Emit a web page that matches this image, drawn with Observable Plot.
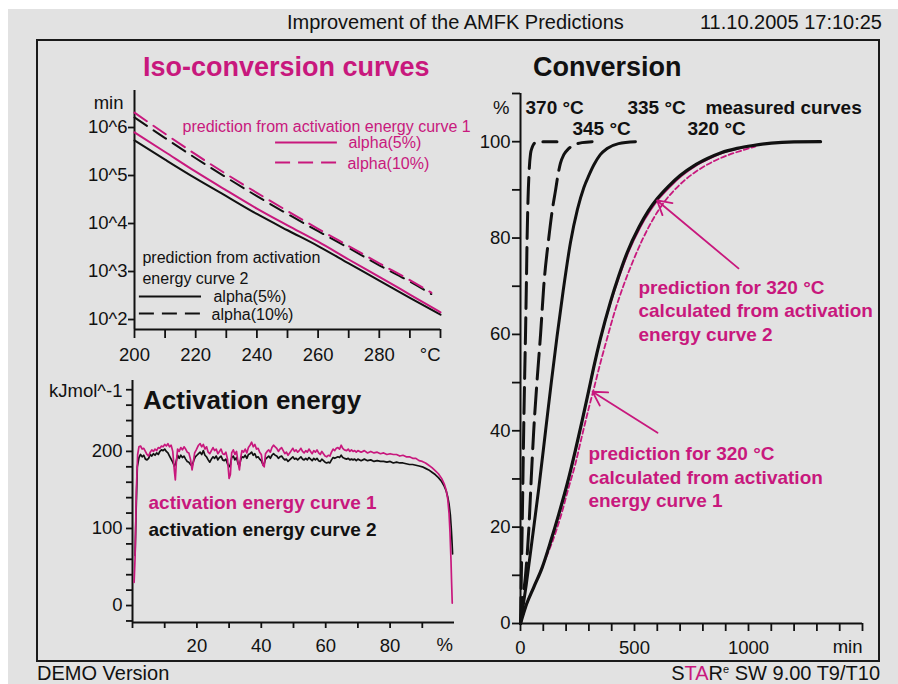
<!DOCTYPE html>
<html><head><meta charset="utf-8">
<script src="https://cdn.jsdelivr.net/npm/d3@7"></script>
<script src="https://cdn.jsdelivr.net/npm/@observablehq/plot@0.6"></script>
<style>
body{margin:0;background:#fff;}
#page{position:relative;width:898px;height:684px;overflow:hidden;background:#fff;font-family:"Liberation Sans",Arial,sans-serif;color:#111;}
#bg{position:absolute;left:8px;top:9px;right:0;bottom:0;background:#e2e2e2;}
#frame{position:absolute;left:36px;top:39px;width:840px;height:619px;border:2px solid #1a1a1a;}
.t{position:absolute;white-space:nowrap;line-height:1;transform:translateY(-50%);}
.b{font-weight:bold;}
</style></head>
<body>
<div id="page">
  <div id="bg"></div>
  <div id="frame"></div>
  <div class="t" style="left:287px;top:22px;font-size:20px;">Improvement of the AMFK Predictions</div>
  <div class="t" style="right:16px;top:22px;font-size:20px;">11.10.2005 17:10:25</div>
  <div class="t b" style="left:143px;top:67px;font-size:27px;color:#c8187d;">Iso-conversion curves</div>
  <div class="t b" style="left:533px;top:67px;font-size:27px;">Conversion</div>
  <div class="t b" style="left:143px;top:400px;font-size:26px;">Activation energy</div>
  <div class="t" style="left:37px;top:673px;font-size:20px;">DEMO Version</div>
  <div class="t" style="right:18px;top:673px;font-size:20px;">S<span style="color:#c8187d">TA</span>R<sup style="font-size:11px;vertical-align:7px;line-height:0">e</sup> SW 9.00 T9/T10</div>
  <div id="charts"></div>
</div>
<script>
const MAG = "#c8187d";
const INK = "#111";
const FONT = '"Liberation Sans", Arial, sans-serif';

// ---------- Iso-conversion curves (time in min vs temperature in °C) ----------
const isoTemp = [200, 210, 220, 230, 240, 250, 260, 270, 280, 290, 300];
const isoTempDashed = [200, 210, 220, 230, 240, 250, 260, 270, 280, 290, 297];
const iso5Curve1 = [794000, 309000, 120000, 49000, 20400, 9120, 4170, 1780, 776, 331, 141];
const iso5Curve2 = [537000, 214000, 87100, 37200, 15800, 7240, 3390, 1480, 646, 282, 126];
const iso10Curve1 = [2040000, 741000, 275000, 107000, 43600, 18200, 7760, 3390, 1480, 661, 363];
const iso10Curve2 = [1620000, 603000, 229000, 91200, 37200, 15800, 6920, 3090, 1350, 617, 339];
const isoXTicks = [200, 210, 220, 230, 240, 250, 260, 270, 280, 290, 300];
const isoXLabels = [200, 220, 240, 260, 280];
const isoYTicks = [1e2, 1e3, 1e4, 1e5, 1e6];

// ---------- Activation energy (kJ/mol vs conversion %) ----------
const actCurve1 = [[0.5,30],[0.8,62],[1.2,150],[1.6,196],[2.0,206],[2.5,207],[3.0,203],[3.5,204],[4.0,200],[4.5,196],[5.0,194],[5.5,199],[6.0,202],[6.5,200],[7.0,203],[7.5,201],[8.0,205],[8.5,204],[9.0,207],[9.5,206],[10.0,209],[10.5,207],[11.0,210],[11.5,206],[12.0,208],[12.5,200],[13.0,175],[13.3,163],[13.6,185],[14.0,203],[14.5,200],[15.0,205],[15.5,202],[16.0,206],[16.5,203],[17.0,199],[17.5,198],[18.0,190],[18.5,176],[18.9,186],[19.3,198],[19.8,202],[20.5,208],[21.0,210],[21.5,206],[22.0,209],[22.5,203],[23.0,206],[23.5,199],[24.0,197],[24.5,201],[25.0,205],[25.5,201],[26.0,203],[26.5,197],[27.0,200],[27.5,203],[28.0,197],[28.5,196],[29.0,199],[29.5,190],[30.0,165],[30.4,170],[30.8,198],[31.3,202],[31.8,196],[32.3,200],[32.8,185],[33.2,176],[33.6,192],[34.0,201],[34.5,199],[35.0,203],[35.5,198],[36.0,205],[36.5,208],[37.0,212],[37.5,206],[38.0,209],[38.5,203],[39.0,204],[39.5,199],[40.0,196],[40.5,182],[40.9,180],[41.3,197],[41.8,200],[42.3,202],[42.8,199],[43.3,205],[43.8,208],[44.3,206],[44.8,204],[45.3,200],[45.8,203],[46.3,205],[46.8,201],[47.3,197],[47.8,199],[48.3,195],[48.8,198],[49.3,201],[49.8,204],[50.3,200],[50.8,202],[51.3,199],[51.8,201],[52.3,204],[52.8,200],[53.3,198],[53.8,201],[54.3,199],[54.8,203],[55.3,200],[55.8,197],[56.3,201],[56.8,199],[57.3,202],[57.8,198],[58.3,196],[58.8,200],[59.3,197],[59.8,194],[60.3,193],[60.8,195],[61.3,194],[61.8,199],[62.3,203],[62.8,201],[63.3,204],[63.8,205],[64.3,203],[64.8,208],[65.3,204],[65.8,202],[66.5,201],[67.0,203],[67.5,200],[68.0,202],[68.5,200],[69.0,201],[69.5,199],[70,201],[71,199],[72,201],[73,198],[74,200],[75,198],[76,199],[77,197],[78,198],[79,196],[80,197],[81,196],[82,196],[83,194],[84,195],[85,193],[86,193],[87,191],[88,191],[89,188],[90,187],[91,185],[92,182],[93,179],[94,175],[95,171],[96,165],[96.8,158],[97.4,150],[97.9,138],[98.3,120],[98.6,95],[98.9,60],[99.1,30],[99.3,3]];
const actCurve2 = [[0.8,65],[1.1,120],[1.5,180],[2.0,192],[2.5,196],[3.0,193],[3.5,195],[4.0,190],[4.5,189],[5.0,191],[5.5,196],[6.0,194],[6.5,197],[7.0,195],[7.5,198],[8.0,196],[8.5,200],[9.0,202],[9.5,201],[10.0,203],[10.5,200],[11.0,198],[11.5,194],[12.0,190],[12.5,186],[13.0,181],[13.4,184],[14.0,195],[14.5,191],[15.0,195],[15.5,192],[16.0,194],[16.5,190],[17.0,187],[17.5,186],[18.0,183],[18.5,181],[19.0,188],[19.5,193],[20.0,195],[20.5,197],[21.0,199],[21.5,196],[22.0,201],[22.5,195],[23.0,193],[23.5,189],[24.0,186],[24.5,190],[25.0,193],[25.5,191],[26.0,194],[26.5,189],[27.0,192],[27.5,194],[28.0,189],[28.5,188],[29.0,190],[29.5,184],[30.0,180],[30.4,183],[30.8,192],[31.3,194],[31.8,189],[32.3,192],[32.8,184],[33.2,181],[33.6,189],[34.0,193],[34.5,192],[35.0,195],[35.5,191],[36.0,196],[36.5,197],[37.0,199],[37.5,195],[38.0,197],[38.5,192],[39.0,193],[39.5,190],[40.0,188],[40.5,183],[40.9,184],[41.3,190],[41.8,192],[42.3,194],[42.8,191],[43.3,195],[43.8,197],[44.3,195],[44.8,194],[45.3,191],[45.8,193],[46.3,194],[46.8,191],[47.3,189],[47.8,190],[48.3,187],[48.8,189],[49.3,191],[49.8,193],[50.3,190],[50.8,191],[51.3,189],[51.8,191],[52.3,193],[52.8,190],[53.3,189],[53.8,191],[54.3,189],[54.8,192],[55.3,190],[55.8,188],[56.3,191],[56.8,189],[57.3,191],[57.8,188],[58.3,187],[58.8,190],[59.3,188],[59.8,186],[60.3,185],[60.8,186],[61.3,185],[61.8,189],[62.3,192],[62.8,191],[63.3,192],[63.8,193],[64.3,192],[64.8,195],[65.3,192],[65.8,191],[66.5,190],[67,191],[67.5,189],[68,190],[68.5,189],[69,190],[69.5,188],[70,190],[71,188],[72,190],[73,188],[74,189],[75,187],[76,188],[77,187],[78,187],[79,186],[80,187],[81,185],[82,186],[83,185],[84,185],[85,184],[86,183],[87,183],[88,182],[89,181],[90,180],[91,178],[92,176],[93,173],[94,170],[95,166],[96,161],[96.8,155],[97.4,149],[97.9,141],[98.3,132],[98.7,118],[99.0,100],[99.2,85],[99.4,67]];
const actXTicks = [0, 10, 20, 30, 40, 50, 60, 70, 80, 90];
const actXLabels = [20, 40, 60, 80];
const actYTicks = [-20, 0, 20, 40, 60, 80, 100, 120, 140, 160, 180, 200, 220, 240, 260, 280];
const actYLabels = [0, 100, 200];

// ---------- Conversion (% vs time in min) ----------
const t370 = [0, 3, 7, 11, 15, 19, 22, 26, 29, 33, 38, 44, 51, 58, 70, 85, 160];
const c370 = [0, 8, 19, 31, 43, 53, 60, 71, 80, 88, 94, 97.5, 98.8, 99.5, 99.9, 100, 100];
const t345 = [0, 10, 22, 37, 47, 58, 72, 88, 102, 124, 140, 154, 164, 175, 190, 210, 235, 270, 314];
const c345 = [0, 5, 10, 20, 30, 40, 50, 60, 70, 80, 86, 90, 93, 95.5, 97.3, 98.5, 99.3, 99.8, 100];
const t335 = [0, 25, 50, 80, 110, 135, 160, 187, 219, 250, 278, 300, 322, 350, 380, 430, 504];
const c335 = [0, 8, 17, 28, 40, 50, 59.5, 69, 79, 86, 90.5, 93, 95.2, 97.3, 98.6, 99.6, 100];
const t320 = [0, 22, 58, 95, 132, 168, 205, 241, 270, 300, 325, 350, 395, 430, 468, 520, 560, 600, 650, 700, 760, 820, 880, 950, 1020, 1100, 1200, 1316];
const c320 = [0, 3.4, 7.5, 11.6, 17, 22.7, 29, 36, 42, 48.5, 54, 59, 66.8, 72, 77, 82.3, 85.6, 88.2, 90.8, 93, 95, 96.5, 97.7, 98.6, 99.2, 99.7, 99.95, 100];
const tPred1 = [0, 22, 58, 95, 115, 140, 175, 210, 240, 270, 300, 322, 350, 380, 415, 453, 495, 534, 580, 629, 680, 720, 789, 850, 921, 980, 1030];
const cPred1 = [0, 3.4, 7.5, 11.6, 14, 17, 22, 28, 33, 39, 44.8, 48.8, 54, 59.2, 65, 70.3, 75.4, 79.6, 83.8, 87.4, 90.2, 92, 94.4, 96, 97.4, 98.3, 99];
const tPred2 = [0, 22, 58, 95, 132, 168, 205, 241, 270, 300, 325, 350, 397, 433, 473, 526, 568, 608, 659, 710, 770, 830, 890, 960, 1030];
const cPred2 = [0, 3.4, 7.5, 11.6, 17, 22.7, 29, 36, 42, 48.5, 54, 59, 66.8, 72, 77, 82.3, 85.6, 88.2, 90.8, 93, 95, 96.5, 97.7, 98.6, 99.2];
const convXTicks = d3.range(0, 1501, 100);
const convXLabels = [0, 500, 1000];
const convYTicks = [0, 10, 20, 30, 40, 50, 60, 70, 80, 90, 100, 110];
const convYLabels = [0, 20, 40, 60, 80, 100];

const rows = (xs, ys) => xs.map((x, i) => ({x, y: ys[i]}));
const pairs = (a) => a.map(([x, y]) => ({x, y}));
const note = (str, x, y, o = {}) => Plot.text([str], {x: () => x, y: () => y, text: d => d, ...o});
const style = `position:absolute;left:0;top:0;background:transparent;overflow:visible;font-family:${FONT};font-size:18.5px;color:${INK};`;

// Iso-conversion plot
const isoPlot = Plot.plot({
  width: 898, height: 684,
  marginLeft: 134, marginRight: 458, marginTop: 90, marginBottom: 355,
  style,
  x: {domain: [200, 300]},
  y: {type: "log", domain: [Math.pow(10, 1.792), Math.pow(10, 6.771)]},
  marks: [
    Plot.axisX({ticks: isoXTicks, tickSize: 9, tickPadding: 9, strokeWidth: 1.8, label: null,
      tickFormat: d => isoXLabels.includes(d) ? String(d) : ""}),
    Plot.axisY({ticks: isoYTicks, tickSize: 6, tickPadding: 1, strokeWidth: 1.8, label: null,
      tickFormat: d => "10^" + Math.round(Math.log10(d))}),
    Plot.ruleX([200], {stroke: INK, strokeWidth: 2}),
    Plot.ruleY([Math.pow(10, 1.792)], {stroke: INK, strokeWidth: 2}),
    note("°C", 300, Math.pow(10, 1.792), {dy: 26, textAnchor: "end", fill: INK}),
    note("min", 200, Math.pow(10, 6.5), {dx: -11, textAnchor: "end", fill: INK}),
    Plot.line(rows(isoTemp, iso5Curve2), {x: "x", y: "y", stroke: INK, strokeWidth: 2, curve: "monotone-x"}),
    Plot.line(rows(isoTempDashed, iso10Curve2), {x: "x", y: "y", stroke: INK, strokeWidth: 2, strokeDasharray: "15,8", curve: "monotone-x"}),
    Plot.line(rows(isoTemp, iso5Curve1), {x: "x", y: "y", stroke: MAG, strokeWidth: 2, curve: "monotone-x"}),
    Plot.line(rows(isoTempDashed, iso10Curve1), {x: "x", y: "y", stroke: MAG, strokeWidth: 2, strokeDasharray: "15,8", curve: "monotone-x"}),
    // legend, curve 1
    note("prediction from activation energy curve 1", 215.7, Math.pow(10, 6.02), {textAnchor: "start", fill: MAG, fontSize: 16}),
    Plot.ruleY([Math.pow(10, 5.6875)], {x1: 246.1, x2: 266.3, stroke: MAG, strokeWidth: 2}),
    Plot.ruleY([Math.pow(10, 5.27)], {x1: 246.1, x2: 266.3, stroke: MAG, strokeWidth: 2, strokeDasharray: "15,8"}),
    note("alpha(5%)", 269.9, Math.pow(10, 5.6875), {textAnchor: "start", fill: MAG, fontSize: 16}),
    note("alpha(10%)", 269.6, Math.pow(10, 5.25), {textAnchor: "start", fill: MAG, fontSize: 16}),
    // legend, curve 2
    note("prediction from activation", 202.6, Math.pow(10, 3.29), {textAnchor: "start", fill: INK, fontSize: 16}),
    note("energy curve 2", 202.6, Math.pow(10, 2.854), {textAnchor: "start", fill: INK, fontSize: 16}),
    Plot.ruleY([Math.pow(10, 2.479)], {x1: 201.6, x2: 221.9, stroke: INK, strokeWidth: 2}),
    Plot.ruleY([Math.pow(10, 2.125)], {x1: 201.6, x2: 221.9, stroke: INK, strokeWidth: 2, strokeDasharray: "15,8"}),
    note("alpha(5%)", 225.8, Math.pow(10, 2.479), {textAnchor: "start", fill: INK, fontSize: 16}),
    note("alpha(10%)", 225.2, Math.pow(10, 2.104), {textAnchor: "start", fill: INK, fontSize: 16})
  ]
});

// Activation energy plot
const actPlot = Plot.plot({
  width: 898, height: 684,
  marginLeft: 132, marginRight: 444, marginTop: 380, marginBottom: 62,
  style,
  x: {domain: [0, 100]},
  y: {domain: [-22, 292]},
  marks: [
    Plot.axisX({ticks: actXTicks, tickSize: 6, tickPadding: 10, strokeWidth: 1.8, label: null,
      tickFormat: d => actXLabels.includes(d) ? String(d) : ""}),
    Plot.axisY({ticks: actYTicks, tickSize: 6, tickPadding: 4, strokeWidth: 1.8, label: null,
      tickFormat: d => actYLabels.includes(d) ? String(d) : ""}),
    Plot.ruleX([0], {stroke: INK, strokeWidth: 2}),
    Plot.ruleY([-22], {stroke: INK, strokeWidth: 2}),
    note("%", 99.5, -22, {dy: 23, textAnchor: "end", fill: INK}),
    note("kJmol^-1", 0, 278, {dx: -10, textAnchor: "end", fill: INK}),
    Plot.line(pairs(actCurve2), {x: "x", y: "y", stroke: INK, strokeWidth: 1.7}),
    Plot.line(pairs(actCurve1), {x: "x", y: "y", stroke: MAG, strokeWidth: 1.7}),
    note("activation energy curve 1", 4.97, 133.8, {textAnchor: "start", fill: MAG, fontSize: 19, fontWeight: "bold"}),
    note("activation energy curve 2", 4.97, 98.7, {textAnchor: "start", fill: INK, fontSize: 19, fontWeight: "bold"})
  ]
});

// Conversion plot
const convPlot = Plot.plot({
  width: 898, height: 684,
  marginLeft: 520, marginRight: 36, marginTop: 93, marginBottom: 61,
  style,
  x: {domain: [0, 1500]},
  y: {domain: [0, 110]},
  marks: [
    Plot.axisX({ticks: convXTicks, tickSize: 8, tickPadding: 9, strokeWidth: 1.8, label: null,
      tickFormat: d => convXLabels.includes(d) ? String(d) : ""}),
    Plot.axisY({ticks: convYTicks, tickSize: 8, tickPadding: 2, strokeWidth: 1.8, label: null,
      tickFormat: d => convYLabels.includes(d) ? String(d) : ""}),
    Plot.ruleX([0], {stroke: INK, strokeWidth: 2}),
    Plot.ruleY([0], {stroke: INK, strokeWidth: 2}),
    note("min", 1500, 0, {dy: 24, textAnchor: "end", fill: INK}),
    note("%", 0, 107, {dx: -11, textAnchor: "end", fill: INK}),
    Plot.line(rows(tPred1, cPred1), {x: "x", y: "y", stroke: MAG, strokeWidth: 1.8, strokeDasharray: "5,3", curve: "monotone-x"}),
    Plot.line(rows(tPred2, cPred2), {x: "x", y: "y", stroke: MAG, strokeWidth: 1.8, curve: "monotone-x"}),
    Plot.line(rows(t370, c370), {x: "x", y: "y", stroke: INK, strokeWidth: 3, strokeDasharray: "26,9", curve: "monotone-x"}),
    Plot.line(rows(t345, c345), {x: "x", y: "y", stroke: INK, strokeWidth: 3, strokeDasharray: "26,9", curve: "monotone-x"}),
    Plot.line(rows(t335, c335), {x: "x", y: "y", stroke: INK, strokeWidth: 3, curve: "monotone-x"}),
    Plot.line(rows(t320, c320), {x: "x", y: "y", stroke: INK, strokeWidth: 3.2, curve: "monotone-x"}),
    note("370 °C", 22, 107, {textAnchor: "start", fill: INK, fontSize: 19, fontWeight: "bold"}),
    note("335 °C", 469, 107, {textAnchor: "start", fill: INK, fontSize: 19, fontWeight: "bold"}),
    note("measured curves", 811, 107, {textAnchor: "start", fill: INK, fontSize: 19, fontWeight: "bold"}),
    note("345 °C", 228, 102.7, {textAnchor: "start", fill: INK, fontSize: 19, fontWeight: "bold"}),
    note("320 °C", 732, 102.7, {textAnchor: "start", fill: INK, fontSize: 19, fontWeight: "bold"}),
    Plot.arrow([0], {x1: () => 956, y1: () => 73.7, x2: () => 599, y2: () => 87.8, stroke: MAG, strokeWidth: 1.8, headLength: 13}),
    Plot.arrow([0], {x1: () => 601, y1: () => 39.6, x2: () => 316, y2: () => 48.1, stroke: MAG, strokeWidth: 1.8, headLength: 13}),
    note("prediction for 320 °C\ncalculated from activation\nenergy curve 2", 517.5, 65.1, {textAnchor: "start", fill: MAG, fontSize: 19, fontWeight: "bold", lineHeight: 1.24}),
    note("prediction for 320 °C\ncalculated from activation\nenergy curve 1", 298, 30.6, {textAnchor: "start", fill: MAG, fontSize: 19, fontWeight: "bold", lineHeight: 1.24})
  ]
});

const holder = document.getElementById("charts");
holder.append(isoPlot, actPlot, convPlot);
</script>
</body></html>
